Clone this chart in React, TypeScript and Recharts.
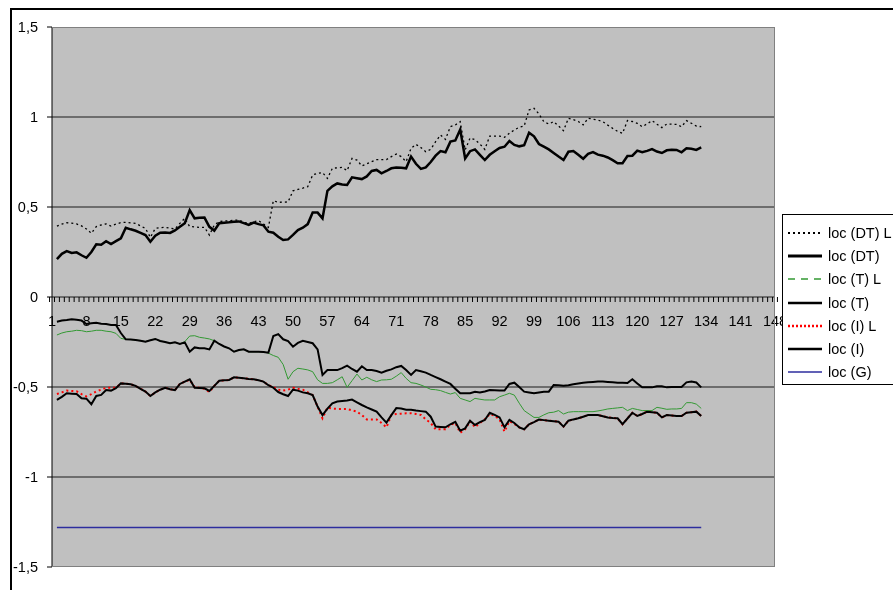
import React from 'react';
import { LineChart, Line, XAxis, YAxis, CartesianGrid } from 'recharts';

// categories 1..148, values start at category 2 and stop at 133
const categories = Array.from({ length: 148 }, (_, i) => String(i + 1));
const yTicks = [-1.5, -1, -0.5, 0, 0.5, 1, 1.5];
const gridValues = [-1, -0.5, 0, 0.5, 1];

const dtL = [
  null, 0.394, 0.405, 0.413, 0.41, 0.406, 0.395, 0.378, 0.354, 0.391,
  0.4, 0.406, 0.394, 0.405, 0.413, 0.415, 0.412, 0.409, 0.395, 0.381,
  0.331, 0.381, 0.385, 0.387, 0.382, 0.378, 0.409, 0.437, 0.391, 0.39,
  0.387, 0.387, 0.344, 0.4, 0.419, 0.422, 0.424, 0.426, 0.428, 0.415,
  0.409, 0.418, 0.424, 0.406, 0.387, 0.535, 0.526, 0.527, 0.528, 0.59,
  0.598, 0.605, 0.613, 0.678, 0.687, 0.691, 0.659, 0.715, 0.718, 0.72,
  0.702, 0.77, 0.761, 0.728, 0.74, 0.752, 0.763, 0.763, 0.763, 0.78,
  0.794, 0.78, 0.752, 0.826, 0.848, 0.83, 0.807, 0.82, 0.863, 0.9,
  0.876, 0.946, 0.956, 0.974, 0.817, 0.883, 0.874, 0.85, 0.82, 0.894,
  0.894, 0.894, 0.887, 0.91, 0.928, 0.943, 0.95, 1.039, 1.048, 1.017,
  0.974, 0.961, 0.974, 0.95, 0.924, 0.993, 0.985, 0.975, 0.956, 0.993,
  0.988, 0.983, 0.974, 0.955, 0.937, 0.92, 0.909, 0.98, 0.975, 0.965,
  0.946, 0.962, 0.98, 0.96, 0.941, 0.961, 0.96, 0.959, 0.946, 0.98,
  0.965, 0.95, 0.946,
];

const dt = [
  null, 0.21, 0.24, 0.255, 0.245, 0.248, 0.232, 0.218, 0.25, 0.293,
  0.29, 0.31, 0.294, 0.31, 0.326, 0.385, 0.376, 0.368, 0.356, 0.344,
  0.307, 0.34, 0.357, 0.358, 0.356, 0.37, 0.39, 0.41, 0.483, 0.437,
  0.44, 0.441, 0.39, 0.369, 0.41, 0.413, 0.415, 0.418, 0.42, 0.41,
  0.4, 0.413, 0.405, 0.398, 0.363, 0.357, 0.335, 0.317, 0.32, 0.345,
  0.372, 0.385, 0.405, 0.469, 0.469, 0.437, 0.59, 0.615, 0.631, 0.625,
  0.622, 0.665, 0.66, 0.655, 0.67, 0.7, 0.706, 0.687, 0.7, 0.715,
  0.72, 0.718, 0.715, 0.78, 0.74, 0.712, 0.72, 0.75, 0.785, 0.811,
  0.804, 0.863, 0.87, 0.931, 0.77, 0.81, 0.82, 0.79, 0.761, 0.79,
  0.81, 0.828, 0.835, 0.867, 0.845, 0.837, 0.843, 0.913, 0.893, 0.85,
  0.835, 0.82, 0.8, 0.78, 0.761, 0.807, 0.811, 0.79, 0.768, 0.795,
  0.805, 0.791, 0.785, 0.775, 0.76, 0.743, 0.743, 0.783, 0.785, 0.813,
  0.804, 0.812, 0.822, 0.808, 0.8, 0.815, 0.818, 0.817, 0.804, 0.826,
  0.824, 0.817, 0.831,
];

const tL = [
  null, -0.211, -0.2, -0.193, -0.19, -0.185, -0.187, -0.193, -0.19, -0.185,
  -0.185, -0.19, -0.193, -0.202, -0.23, -0.235, -0.236, -0.239, -0.243, -0.248,
  -0.24, -0.233, -0.244, -0.25, -0.257, -0.252, -0.261, -0.248, -0.217, -0.215,
  -0.224, -0.228, -0.233, -0.243, -0.261, -0.275, -0.285, -0.304, -0.295, -0.291,
  -0.304, -0.304, -0.304, -0.305, -0.312, -0.325, -0.335, -0.375, -0.457, -0.415,
  -0.396, -0.4, -0.405, -0.415, -0.46, -0.48, -0.48, -0.476, -0.46, -0.443,
  -0.502, -0.465, -0.428, -0.461, -0.446, -0.46, -0.47, -0.461, -0.46, -0.457,
  -0.44, -0.42, -0.452, -0.476, -0.48, -0.489, -0.5, -0.513, -0.515, -0.52,
  -0.53, -0.539, -0.531, -0.563, -0.572, -0.581, -0.563, -0.568, -0.572, -0.572,
  -0.572, -0.554, -0.545, -0.535, -0.545, -0.59, -0.631, -0.65, -0.669, -0.669,
  -0.655, -0.643, -0.64, -0.631, -0.65, -0.64, -0.637, -0.637, -0.637, -0.637,
  -0.637, -0.633, -0.628, -0.622, -0.619, -0.616, -0.613, -0.631, -0.619, -0.625,
  -0.631, -0.631, -0.631, -0.613, -0.618, -0.624, -0.622, -0.622, -0.619, -0.587,
  -0.587, -0.595, -0.619,
];

const t = [
  null, -0.137, -0.131, -0.128, -0.124, -0.127, -0.131, -0.15, -0.146, -0.143,
  -0.148, -0.15, -0.156, -0.155, -0.2, -0.235, -0.236, -0.239, -0.243, -0.248,
  -0.24, -0.233, -0.244, -0.25, -0.257, -0.252, -0.261, -0.252, -0.304, -0.28,
  -0.285, -0.285, -0.291, -0.243, -0.261, -0.275, -0.285, -0.304, -0.295, -0.291,
  -0.304, -0.304, -0.304, -0.305, -0.309, -0.217, -0.206, -0.235, -0.245, -0.276,
  -0.255, -0.243, -0.25, -0.257, -0.291, -0.433, -0.406, -0.406, -0.406, -0.395,
  -0.381, -0.4, -0.415, -0.385, -0.406, -0.406, -0.411, -0.42, -0.41, -0.402,
  -0.39, -0.383, -0.406, -0.433, -0.406, -0.413, -0.42, -0.433, -0.445, -0.457,
  -0.47, -0.483, -0.51, -0.535, -0.535, -0.535, -0.526, -0.531, -0.525, -0.517,
  -0.518, -0.52, -0.52, -0.483, -0.476, -0.5, -0.526, -0.53, -0.535, -0.53,
  -0.526, -0.526, -0.489, -0.49, -0.493, -0.49, -0.485, -0.48, -0.476, -0.474,
  -0.472, -0.47, -0.47, -0.472, -0.474, -0.476, -0.476, -0.478, -0.457, -0.48,
  -0.502, -0.502, -0.502, -0.496, -0.496, -0.502, -0.5, -0.5, -0.5, -0.474,
  -0.47, -0.475, -0.502,
];

const iL = [
  null, -0.539, -0.53, -0.52, -0.522, -0.524, -0.54, -0.552, -0.54, -0.524,
  -0.515, -0.504, -0.504, -0.504, -0.48, -0.482, -0.485, -0.494, -0.51, -0.525,
  -0.55, -0.53, -0.515, -0.504, -0.512, -0.517, -0.483, -0.47, -0.46, -0.5,
  -0.505, -0.51, -0.528, -0.494, -0.465, -0.463, -0.461, -0.446, -0.449, -0.452,
  -0.455, -0.457, -0.463, -0.47, -0.49, -0.5, -0.515, -0.52, -0.515, -0.504,
  -0.51, -0.515, -0.53, -0.545, -0.609, -0.674, -0.615, -0.62, -0.622, -0.622,
  -0.622, -0.63, -0.637, -0.656, -0.68, -0.68, -0.68, -0.7, -0.724, -0.656,
  -0.65, -0.648, -0.646, -0.646, -0.65, -0.655, -0.68, -0.7, -0.735, -0.735,
  -0.735, -0.71, -0.7, -0.754, -0.735, -0.69, -0.724, -0.7, -0.68, -0.65,
  -0.66, -0.68, -0.748, -0.69, -0.705, -0.724, -0.735, -0.707, -0.695, -0.681,
  -0.684, -0.687, -0.69, -0.693, -0.72, -0.687, -0.68, -0.674, -0.665, -0.656,
  -0.656, -0.656, -0.662, -0.669, -0.672, -0.674, -0.707, -0.675, -0.643, -0.661,
  -0.65, -0.637, -0.64, -0.643, -0.669, -0.656, -0.658, -0.661, -0.661, -0.643,
  -0.64, -0.637, -0.661,
];

const iSeries = [
  null, -0.572, -0.555, -0.535, -0.537, -0.539, -0.563, -0.565, -0.596, -0.55,
  -0.544, -0.517, -0.52, -0.507, -0.48, -0.482, -0.485, -0.494, -0.51, -0.525,
  -0.55, -0.53, -0.515, -0.504, -0.512, -0.517, -0.483, -0.47, -0.457, -0.504,
  -0.505, -0.507, -0.522, -0.494, -0.465, -0.463, -0.461, -0.446, -0.449, -0.452,
  -0.455, -0.457, -0.463, -0.47, -0.49, -0.504, -0.528, -0.54, -0.55, -0.515,
  -0.52, -0.53, -0.535, -0.545, -0.609, -0.656, -0.62, -0.591, -0.581, -0.578,
  -0.575, -0.57, -0.585, -0.6, -0.613, -0.625, -0.637, -0.669, -0.698, -0.656,
  -0.617, -0.62, -0.626, -0.626, -0.631, -0.634, -0.637, -0.665, -0.72, -0.722,
  -0.724, -0.707, -0.693, -0.743, -0.73, -0.687, -0.711, -0.695, -0.683, -0.643,
  -0.655, -0.669, -0.724, -0.683, -0.7, -0.724, -0.735, -0.707, -0.695, -0.681,
  -0.684, -0.687, -0.69, -0.693, -0.72, -0.687, -0.68, -0.674, -0.665, -0.656,
  -0.656, -0.656, -0.662, -0.669, -0.672, -0.674, -0.707, -0.675, -0.643, -0.661,
  -0.65, -0.637, -0.64, -0.643, -0.669, -0.656, -0.658, -0.661, -0.661, -0.643,
  -0.64, -0.637, -0.661,
];

// loc (G) is flat over the whole period
const gLevel = -1.28;

const FONT = '"Liberation Sans", Arial, sans-serif';
const CHART_W = 885;
const CHART_H = 582;
const MARGIN = { top: 19, right: 118, bottom: 22, left: 4 };
const Y_AXIS_W = 40;
const X_AXIS_H = 1;
const PLOT_W = CHART_W - MARGIN.left - Y_AXIS_W - MARGIN.right;
const PLOT_H = CHART_H - MARGIN.top - MARGIN.bottom - X_AXIS_H;
const BAND = PLOT_W / categories.length;
// category axis crosses the value axis at 0
const ZERO_Y = MARGIN.top + (PLOT_H * yTicks[yTicks.length - 1]) / (yTicks[yTicks.length - 1] - yTicks[0]);

const seriesList = [
  { key: 'dtL', name: 'loc (DT) L', color: '#000000', width: 1.3, dash: '2 3', legendDash: '2 3', legendWidth: 2 },
  { key: 'dt', name: 'loc (DT)', color: '#000000', width: 2.5, legendWidth: 3 },
  { key: 'tL', name: 'loc (T) L', color: '#339933', width: 1, legendDash: '7 6', legendWidth: 1.5 },
  { key: 't', name: 'loc (T)', color: '#000000', width: 2, legendWidth: 2.5 },
  { key: 'iL', name: 'loc (I) L', color: '#ff0000', width: 2, dash: '2 3', legendDash: '2 2', legendWidth: 2.5 },
  { key: 'i', name: 'loc (I)', color: '#000000', width: 2, legendWidth: 2.5 },
  { key: 'g', name: 'loc (G)', color: '#2d2d9e', width: 1.5, legendWidth: 1.5 },
];

const chartData = categories.map((cat, i) => ({
  cat,
  dtL: dtL[i] ?? null,
  dt: dt[i] ?? null,
  tL: tL[i] ?? null,
  t: t[i] ?? null,
  iL: iL[i] ?? null,
  i: iSeries[i] ?? null,
  g: dt[i] != null ? gLevel : null,
}));

const formatValue = (v: number) => String(v).replace('.', ',');

const ZeroAxisTick = (props: any) => {
  const { x, index, payload } = props;
  const left = x - BAND / 2;
  return (
    <g>
      <line x1={left} x2={left} y1={ZERO_Y} y2={ZERO_Y + 5} stroke="#000" />
      {index === categories.length - 1 && (
        <line x1={x + BAND / 2} x2={x + BAND / 2} y1={ZERO_Y} y2={ZERO_Y + 5} stroke="#000" />
      )}
      {index % 7 === 0 && (
        <text x={x} y={ZERO_Y + 29} textAnchor="middle" fontSize={14.5} fontFamily={FONT} fill="#000">
          {payload.value}
        </text>
      )}
    </g>
  );
};

const LegendBox: React.FC = () => (
  <div
    style={{
      position: 'absolute',
      left: 774,
      top: 206,
      width: 111,
      boxSizing: 'border-box',
      background: '#fff',
      borderLeft: '1px solid #000',
      borderTop: '1px solid #000',
      borderBottom: '1px solid #000',
      padding: '6px 0 0 5px',
      fontFamily: FONT,
      fontSize: 14.5,
      color: '#000',
    }}
  >
    {seriesList.map((s) => (
      <div key={s.key} style={{ display: 'flex', alignItems: 'center', height: 23.3, whiteSpace: 'nowrap' }}>
        <svg width={34} height={10} style={{ marginRight: 6, flex: 'none' }}>
          <line
            x1={0}
            x2={34}
            y1={5}
            y2={5}
            stroke={s.color}
            strokeWidth={s.legendWidth}
            strokeDasharray={s.legendDash}
          />
        </svg>
        <span>{s.name}</span>
      </div>
    ))}
  </div>
);

const App: React.FC = () => {
  return (
    <div style={{ position: 'fixed', left: 8, top: 8, width: CHART_W, height: CHART_H }}>
      {/* chart area frame */}
      <div
        style={{
          position: 'absolute',
          left: 2,
          top: 0,
          right: 0,
          bottom: 0,
          borderTop: '2px solid #000',
          borderLeft: '2px solid #000',
        }}
      />
      <div style={{ position: 'absolute', left: 0, top: 0 }}>
        <LineChart width={CHART_W} height={CHART_H} data={chartData} margin={MARGIN}>
          <CartesianGrid
            fill="#c0c0c0"
            vertical={false}
            horizontalValues={gridValues}
            stroke="#1a1a1a"
            strokeWidth={1}
          />
          <XAxis
            dataKey="cat"
            type="category"
            interval={0}
            height={X_AXIS_H}
            axisLine={false}
            tickLine={false}
            tick={(p: any) => <ZeroAxisTick {...p} />}
          />
          <YAxis
            type="number"
            domain={[yTicks[0], yTicks[yTicks.length - 1]]}
            ticks={yTicks}
            width={Y_AXIS_W}
            tickSize={5}
            tickMargin={9}
            axisLine={{ stroke: '#000' }}
            tickLine={{ stroke: '#000' }}
            tickFormatter={formatValue}
            tick={{ fill: '#000', fontSize: 14.5, fontFamily: FONT }}
            allowDataOverflow
          />
          {seriesList.map((s) => (
            <Line
              key={s.key}
              dataKey={s.key}
              name={s.name}
              type="linear"
              stroke={s.color}
              strokeWidth={s.width}
              strokeDasharray={s.dash}
              dot={false}
              activeDot={false}
              isAnimationActive={false}
            />
          ))}
        </LineChart>
      </div>
      {/* plot area border */}
      <div
        style={{
          position: 'absolute',
          left: MARGIN.left + Y_AXIS_W,
          top: MARGIN.top,
          width: PLOT_W,
          height: PLOT_H,
          boxSizing: 'border-box',
          borderTop: '1px solid #808080',
          borderRight: '1px solid #808080',
          borderBottom: '1px solid #808080',
          pointerEvents: 'none',
        }}
      />
      <LegendBox />
    </div>
  );
};

export default App;
